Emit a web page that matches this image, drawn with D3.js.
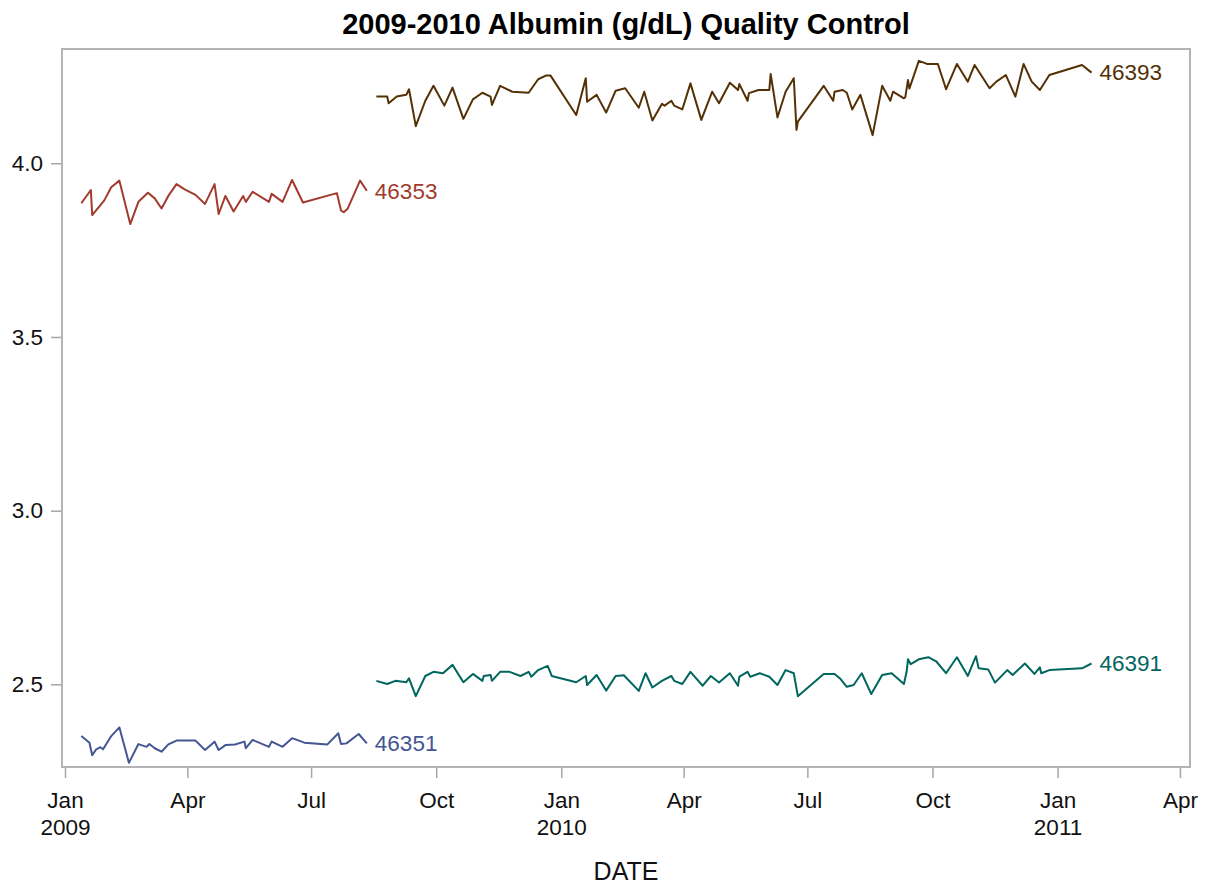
<!DOCTYPE html>
<html>
<head>
<meta charset="utf-8">
<script src="https://cdn.jsdelivr.net/npm/d3@7"></script>
<style>
  body { margin: 0; background: #fff; }
  svg { display: block; font-family: "Liberation Sans", Arial, sans-serif; }
</style>
</head>
<body>
<svg id="chart"></svg>
<script>
const lots = ["46351", "46353", "46391", "46393"];
const lotColors = ["#445694", "#A23A2E", "#01665E", "#543005"];

const dates46351 = [
  "2009-01-13", "2009-01-19", "2009-01-21", "2009-01-24", "2009-01-27", "2009-01-29",
  "2009-02-04", "2009-02-10", "2009-02-17", "2009-02-24",
  "2009-03-02", "2009-03-04", "2009-03-08", "2009-03-13", "2009-03-18", "2009-03-24",
  "2009-04-07", "2009-04-14", "2009-04-21", "2009-04-24", "2009-04-29",
  "2009-05-06", "2009-05-13", "2009-05-14", "2009-05-19", "2009-05-31",
  "2009-06-02", "2009-06-10", "2009-06-17", "2009-06-26",
  "2009-07-13", "2009-07-21", "2009-07-23", "2009-07-27",
  "2009-08-05", "2009-08-11"
];
const albumin46351 = [
  2.351, 2.332, 2.296, 2.313, 2.319, 2.313,
  2.351, 2.376, 2.274, 2.328,
  2.320, 2.328, 2.316, 2.306, 2.327, 2.338,
  2.338, 2.311, 2.335, 2.311, 2.325,
  2.327, 2.335, 2.316, 2.340, 2.320,
  2.335, 2.320, 2.345, 2.332,
  2.327, 2.359, 2.328, 2.330,
  2.357, 2.330
];

const dates46353 = [
  "2009-01-13", "2009-01-20", "2009-01-21", "2009-01-29", "2009-01-30",
  "2009-02-04", "2009-02-10", "2009-02-18", "2009-02-24",
  "2009-03-03", "2009-03-08", "2009-03-13", "2009-03-18", "2009-03-24", "2009-03-30",
  "2009-04-07", "2009-04-14", "2009-04-21", "2009-04-24", "2009-04-29",
  "2009-05-05", "2009-05-12", "2009-05-14", "2009-05-19", "2009-05-31",
  "2009-06-02", "2009-06-10", "2009-06-17", "2009-06-25",
  "2009-07-20", "2009-07-23", "2009-07-25", "2009-07-28",
  "2009-08-06", "2009-08-11"
];
const albumin46353 = [
  3.885, 3.923, 3.851, 3.889, 3.894,
  3.931, 3.950, 3.825, 3.889,
  3.915, 3.899, 3.870, 3.906, 3.940, 3.925,
  3.909, 3.883, 3.940, 3.854, 3.906,
  3.861, 3.906, 3.889, 3.918, 3.889,
  3.912, 3.889, 3.952, 3.887,
  3.914, 3.864, 3.859, 3.870,
  3.950, 3.921
];

const dates46391 = [
  "2009-08-18", "2009-08-26",
  "2009-09-01", "2009-09-09", "2009-09-11", "2009-09-16", "2009-09-23", "2009-09-29",
  "2009-10-06", "2009-10-13", "2009-10-21", "2009-10-28",
  "2009-11-04", "2009-11-05", "2009-11-10", "2009-11-11", "2009-11-17", "2009-11-24",
  "2009-12-02", "2009-12-08", "2009-12-10", "2009-12-15", "2009-12-22", "2009-12-25",
  "2010-01-12", "2010-01-19", "2010-01-20", "2010-01-27",
  "2010-02-03", "2010-02-10", "2010-02-16", "2010-02-27",
  "2010-03-04", "2010-03-09", "2010-03-16", "2010-03-23", "2010-03-25", "2010-03-31",
  "2010-04-06", "2010-04-15", "2010-04-21", "2010-04-27",
  "2010-05-05", "2010-05-11", "2010-05-12", "2010-05-18", "2010-05-20", "2010-05-27",
  "2010-06-03", "2010-06-09", "2010-06-15", "2010-06-21", "2010-06-24",
  "2010-07-13", "2010-07-21", "2010-07-25", "2010-07-30",
  "2010-08-04", "2010-08-10", "2010-08-17", "2010-08-25",
  "2010-09-01", "2010-09-10", "2010-09-12", "2010-09-13", "2010-09-15", "2010-09-21", "2010-09-28",
  "2010-10-04", "2010-10-11", "2010-10-19", "2010-10-27",
  "2010-11-02", "2010-11-04", "2010-11-11", "2010-11-16", "2010-11-25", "2010-11-29",
  "2010-12-08", "2010-12-15", "2010-12-19", "2010-12-20", "2010-12-26",
  "2011-01-19", "2011-01-26"
];
const albumin46391 = [
  2.510, 2.501,
  2.510, 2.506, 2.517, 2.466, 2.524, 2.536,
  2.532, 2.556, 2.506, 2.530,
  2.510, 2.524, 2.527, 2.510, 2.536, 2.536,
  2.524, 2.536, 2.522, 2.541, 2.553, 2.524,
  2.506, 2.524, 2.498, 2.527,
  2.482, 2.524, 2.526, 2.481,
  2.532, 2.491, 2.510, 2.524, 2.510, 2.501,
  2.536, 2.496, 2.524, 2.505,
  2.532, 2.496, 2.522, 2.536, 2.522, 2.532,
  2.522, 2.498, 2.541, 2.532, 2.466,
  2.530, 2.530, 2.517, 2.493,
  2.498, 2.532, 2.472, 2.527,
  2.532, 2.501, 2.536, 2.572, 2.558, 2.572, 2.578,
  2.565, 2.532, 2.578, 2.524,
  2.581, 2.546, 2.543, 2.505, 2.541, 2.527,
  2.560, 2.530, 2.549, 2.532, 2.541,
  2.546, 2.560
];

const dates46393 = [
  "2009-08-18", "2009-08-26", "2009-08-27",
  "2009-09-02", "2009-09-09", "2009-09-11", "2009-09-16", "2009-09-23", "2009-09-29",
  "2009-10-07", "2009-10-13", "2009-10-21", "2009-10-28",
  "2009-11-04", "2009-11-10", "2009-11-11", "2009-11-17", "2009-11-26",
  "2009-12-08", "2009-12-15", "2009-12-21", "2009-12-24",
  "2010-01-12", "2010-01-19", "2010-01-20", "2010-01-27",
  "2010-02-03", "2010-02-10", "2010-02-17", "2010-02-27",
  "2010-03-03", "2010-03-09", "2010-03-16", "2010-03-18", "2010-03-23", "2010-03-25", "2010-03-31",
  "2010-04-06", "2010-04-14", "2010-04-22", "2010-04-27",
  "2010-05-05", "2010-05-11", "2010-05-12", "2010-05-18", "2010-05-19", "2010-05-26",
  "2010-06-03", "2010-06-04", "2010-06-09", "2010-06-15", "2010-06-21", "2010-06-23", "2010-06-24",
  "2010-07-13", "2010-07-20", "2010-07-21", "2010-07-27", "2010-07-30",
  "2010-08-03", "2010-08-09", "2010-08-18", "2010-08-25", "2010-08-31",
  "2010-09-02", "2010-09-10", "2010-09-11", "2010-09-13", "2010-09-14", "2010-09-21", "2010-09-27",
  "2010-10-05", "2010-10-11", "2010-10-19", "2010-10-27",
  "2010-11-01", "2010-11-12", "2010-11-17", "2010-11-24",
  "2010-12-01", "2010-12-07", "2010-12-13", "2010-12-19", "2010-12-26",
  "2011-01-19", "2011-01-26"
];
const albumin46393 = [
  4.192, 4.192, 4.173,
  4.192, 4.197, 4.213, 4.107, 4.180, 4.223,
  4.166, 4.218, 4.128, 4.184,
  4.203, 4.192, 4.168, 4.223, 4.206,
  4.203, 4.242, 4.253, 4.253,
  4.139, 4.245, 4.177, 4.197,
  4.146, 4.209, 4.216, 4.160,
  4.206, 4.123, 4.171, 4.166, 4.180, 4.166, 4.155,
  4.230, 4.125, 4.206, 4.173,
  4.232, 4.211, 4.228, 4.180, 4.202, 4.211,
  4.211, 4.257, 4.132, 4.206, 4.245, 4.096, 4.120,
  4.223, 4.180, 4.206, 4.211, 4.203,
  4.155, 4.197, 4.081, 4.223, 4.180,
  4.206, 4.187, 4.190, 4.240, 4.215, 4.295, 4.286,
  4.286, 4.213, 4.286, 4.235,
  4.283, 4.216, 4.235, 4.254,
  4.192, 4.286, 4.235, 4.211, 4.254,
  4.283, 4.261
];

const yTicks = [2.5, 3.0, 3.5, 4.0];

const width = 1208;
const height = 886;
const margin = { top: 49, right: 18, bottom: 119, left: 62 };
const parseDate = d3.timeParse("%Y-%m-%d");

const series = [
  { lot: lots[0], dates: dates46351, values: albumin46351 },
  { lot: lots[1], dates: dates46353, values: albumin46353 },
  { lot: lots[2], dates: dates46391, values: albumin46391 },
  { lot: lots[3], dates: dates46393, values: albumin46393 },
].map((s, i) => ({
  lot: s.lot,
  color: lotColors[i],
  points: s.dates.map((d, j) => ({ date: parseDate(d), value: s.values[j] })),
}));

const svg = d3.select("#chart").attr("width", width).attr("height", height);

// axis runs Jan 2009 .. Apr 2011 with a little padding either side
const firstTick = new Date(2009, 0, 1);
const lastTick = new Date(2011, 3, 1);
const x = d3
  .scaleTime()
  .domain([d3.timeHour.offset(firstTick, -53), d3.timeHour.offset(lastTick, 178)])
  .range([margin.left, width - margin.right]);

const y = d3
  .scaleLinear()
  .domain([2.262, 4.329])
  .range([height - margin.bottom, margin.top]);

// title
svg
  .append("text")
  .attr("x", (margin.left + width - margin.right) / 2)
  .attr("y", 34)
  .attr("text-anchor", "middle")
  .style("font-size", "29px")
  .style("font-weight", "bold")
  .style("fill", "#000")
  .text("2009-2010 Albumin (g/dL) Quality Control");

// y axis
const yAxis = svg
  .append("g")
  .attr("transform", `translate(${margin.left},0)`)
  .call(
    d3.axisLeft(y).tickValues(yTicks).tickSize(11).tickPadding(8).tickFormat(d3.format(".1f"))
  );
yAxis.select(".domain").remove();
yAxis.selectAll(".tick line").attr("stroke", "#a6a6a6").attr("stroke-width", 1.5);
yAxis.selectAll(".tick text").style("font-size", "22.5px").style("fill", "#111");

// x axis, year on second line under each January
const xAxis = svg
  .append("g")
  .attr("transform", `translate(0,${height - margin.bottom})`)
  .call(
    d3
      .axisBottom(x)
      .tickValues(d3.timeMonth.every(3).range(firstTick, d3.timeDay.offset(lastTick, 1)))
      .tickSize(11)
      .tickPadding(14)
      .tickFormat(d3.timeFormat("%b"))
  );
xAxis.select(".domain").remove();
xAxis.selectAll(".tick line").attr("stroke", "#a6a6a6").attr("stroke-width", 1.5);
xAxis
  .selectAll(".tick text")
  .style("font-size", "22.5px")
  .style("fill", "#111")
  .each(function (d) {
    if (d.getMonth() === 0) {
      d3.select(this)
        .append("tspan")
        .attr("x", 0)
        .attr("dy", "1.2em")
        .text(d.getFullYear());
    }
  });

svg
  .append("text")
  .attr("x", (margin.left + width - margin.right) / 2)
  .attr("y", 880)
  .attr("text-anchor", "middle")
  .style("font-size", "25px")
  .style("fill", "#111")
  .text("DATE");

// lines
const line = d3
  .line()
  .x((d) => x(d.date))
  .y((d) => y(d.value));

svg
  .selectAll("path.lot")
  .data(series)
  .enter()
  .append("path")
  .attr("class", "lot")
  .attr("fill", "none")
  .attr("stroke", (d) => d.color)
  .attr("stroke-width", 2)
  .attr("stroke-linejoin", "round")
  .attr("d", (d) => line(d.points));

// curve labels at the end of each line
svg
  .selectAll("text.lot-label")
  .data(series)
  .enter()
  .append("text")
  .attr("class", "lot-label")
  .attr("x", (d) => x(d.points[d.points.length - 1].date) + 8)
  .attr("y", (d) => y(d.points[d.points.length - 1].value))
  .attr("dy", "0.35em")
  .style("font-size", "22.5px")
  .style("fill", (d) => d.color)
  .text((d) => d.lot);

// frame
svg
  .append("rect")
  .attr("x", margin.left)
  .attr("y", margin.top)
  .attr("width", width - margin.left - margin.right)
  .attr("height", height - margin.top - margin.bottom)
  .attr("fill", "none")
  .attr("stroke", "#b4b4b4")
  .attr("stroke-width", 2);
</script>
</body>
</html>
